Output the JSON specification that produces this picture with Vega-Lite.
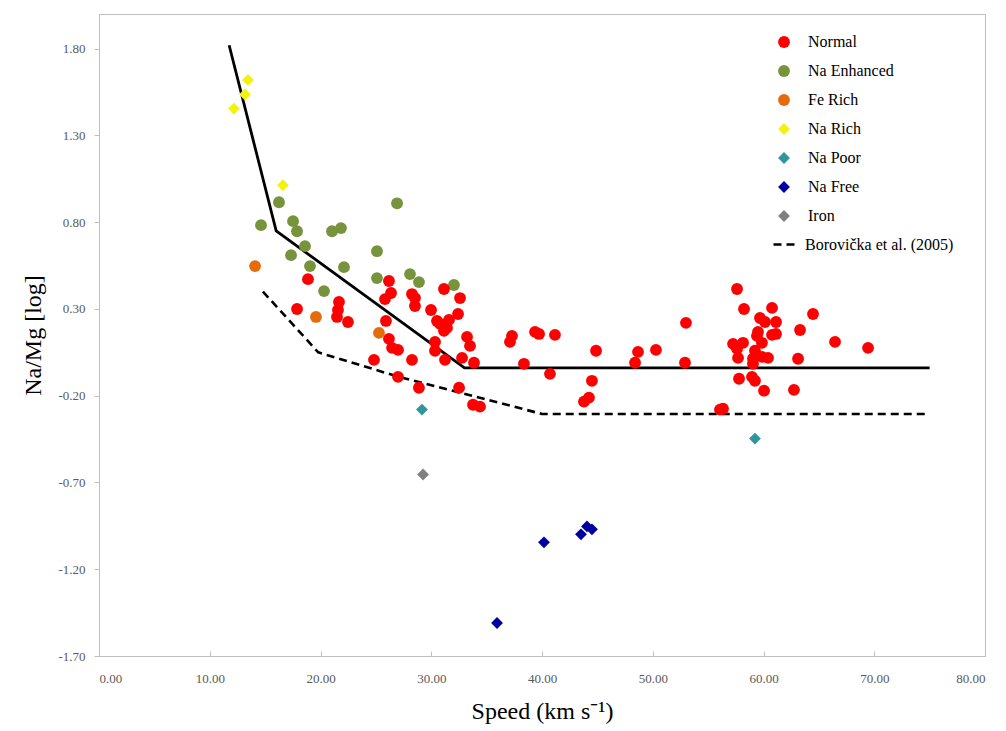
{
  "$schema": "https://vega.github.io/schema/vega-lite/v6.json",
  "width": 886,
  "height": 642,
  "autosize": {"type": "none"},
  "padding": {"left": 99, "top": 14, "right": 21, "bottom": 75},
  "background": "white",
  "config": {
    "view": {"stroke": "#BFBFBF", "strokeWidth": 1},
    "font": "Liberation Serif",
    "axis": {
      "grid": false,
      "labelFont": "Liberation Serif",
      "labelFontSize": 13,
      "labelColor": "#595959",
      "domainColor": "#BFBFBF",
      "tickColor": "#BFBFBF",
      "titleFont": "Liberation Serif",
      "titleFontSize": 24,
      "titleFontWeight": "normal",
      "titleColor": "#000000"
    },
    "legend": {
      "labelFont": "Liberation Serif",
      "labelFontSize": 15,
      "labelColor": "#000000",
      "padding": 0
    }
  },
  "datasets": {
    "pts": [
      {"x": 13.45, "y": 1.62, "g": "Na Rich"},
      {"x": 13.18, "y": 1.536, "g": "Na Rich"},
      {"x": 12.19, "y": 1.455, "g": "Na Rich"},
      {"x": 16.61, "y": 1.013, "g": "Na Rich"},
      {"x": 16.25, "y": 0.915, "g": "Na Enhanced"},
      {"x": 26.91, "y": 0.909, "g": "Na Enhanced"},
      {"x": 14.63, "y": 0.783, "g": "Na Enhanced"},
      {"x": 17.52, "y": 0.806, "g": "Na Enhanced"},
      {"x": 17.88, "y": 0.748, "g": "Na Enhanced"},
      {"x": 21.04, "y": 0.748, "g": "Na Enhanced"},
      {"x": 21.85, "y": 0.766, "g": "Na Enhanced"},
      {"x": 18.6, "y": 0.662, "g": "Na Enhanced"},
      {"x": 17.34, "y": 0.61, "g": "Na Enhanced"},
      {"x": 25.1, "y": 0.633, "g": "Na Enhanced"},
      {"x": 19.05, "y": 0.547, "g": "Na Enhanced"},
      {"x": 22.12, "y": 0.541, "g": "Na Enhanced"},
      {"x": 25.1, "y": 0.478, "g": "Na Enhanced"},
      {"x": 28.08, "y": 0.501, "g": "Na Enhanced"},
      {"x": 28.89, "y": 0.455, "g": "Na Enhanced"},
      {"x": 20.32, "y": 0.403, "g": "Na Enhanced"},
      {"x": 32.05, "y": 0.438, "g": "Na Enhanced"},
      {"x": 14.09, "y": 0.547, "g": "Fe Rich"},
      {"x": 19.59, "y": 0.254, "g": "Fe Rich"},
      {"x": 25.28, "y": 0.162, "g": "Fe Rich"},
      {"x": 29.16, "y": -0.28, "g": "Na Poor"},
      {"x": 59.23, "y": -0.447, "g": "Na Poor"},
      {"x": 40.18, "y": -1.045, "g": "Na Free"},
      {"x": 35.94, "y": -1.51, "g": "Na Free"},
      {"x": 43.52, "y": -0.999, "g": "Na Free"},
      {"x": 44.06, "y": -0.953, "g": "Na Free"},
      {"x": 44.51, "y": -0.97, "g": "Na Free"},
      {"x": 29.26, "y": -0.654, "g": "Iron"},
      {"x": 18.87, "y": 0.472, "g": "Normal"},
      {"x": 26.18, "y": 0.461, "g": "Normal"},
      {"x": 26.37, "y": 0.392, "g": "Normal"},
      {"x": 25.82, "y": 0.357, "g": "Normal"},
      {"x": 28.26, "y": 0.386, "g": "Normal"},
      {"x": 28.53, "y": 0.363, "g": "Normal"},
      {"x": 28.53, "y": 0.317, "g": "Normal"},
      {"x": 29.98, "y": 0.294, "g": "Normal"},
      {"x": 21.67, "y": 0.34, "g": "Normal"},
      {"x": 21.58, "y": 0.294, "g": "Normal"},
      {"x": 21.49, "y": 0.254, "g": "Normal"},
      {"x": 22.48, "y": 0.225, "g": "Normal"},
      {"x": 17.88, "y": 0.3, "g": "Normal"},
      {"x": 25.91, "y": 0.231, "g": "Normal"},
      {"x": 31.15, "y": 0.415, "g": "Normal"},
      {"x": 32.6, "y": 0.363, "g": "Normal"},
      {"x": 32.42, "y": 0.271, "g": "Normal"},
      {"x": 30.52, "y": 0.231, "g": "Normal"},
      {"x": 31.6, "y": 0.237, "g": "Normal"},
      {"x": 30.79, "y": 0.214, "g": "Normal"},
      {"x": 31.42, "y": 0.191, "g": "Normal"},
      {"x": 31.15, "y": 0.174, "g": "Normal"},
      {"x": 26.18, "y": 0.128, "g": "Normal"},
      {"x": 26.46, "y": 0.076, "g": "Normal"},
      {"x": 27.0, "y": 0.064, "g": "Normal"},
      {"x": 30.34, "y": 0.11, "g": "Normal"},
      {"x": 30.34, "y": 0.059, "g": "Normal"},
      {"x": 33.23, "y": 0.139, "g": "Normal"},
      {"x": 33.5, "y": 0.087, "g": "Normal"},
      {"x": 32.78, "y": 0.018, "g": "Normal"},
      {"x": 33.86, "y": -0.01, "g": "Normal"},
      {"x": 31.24, "y": 0.007, "g": "Normal"},
      {"x": 28.26, "y": 0.007, "g": "Normal"},
      {"x": 24.83, "y": 0.007, "g": "Normal"},
      {"x": 27.0, "y": -0.091, "g": "Normal"},
      {"x": 28.89, "y": -0.154, "g": "Normal"},
      {"x": 32.51, "y": -0.154, "g": "Normal"},
      {"x": 33.77, "y": -0.252, "g": "Normal"},
      {"x": 34.4, "y": -0.263, "g": "Normal"},
      {"x": 37.11, "y": 0.11, "g": "Normal"},
      {"x": 37.29, "y": 0.145, "g": "Normal"},
      {"x": 39.37, "y": 0.168, "g": "Normal"},
      {"x": 39.73, "y": 0.156, "g": "Normal"},
      {"x": 41.17, "y": 0.151, "g": "Normal"},
      {"x": 38.37, "y": -0.016, "g": "Normal"},
      {"x": 40.72, "y": -0.074, "g": "Normal"},
      {"x": 44.88, "y": 0.059, "g": "Normal"},
      {"x": 44.51, "y": -0.114, "g": "Normal"},
      {"x": 44.24, "y": -0.211, "g": "Normal"},
      {"x": 43.79, "y": -0.234, "g": "Normal"},
      {"x": 48.67, "y": 0.053, "g": "Normal"},
      {"x": 48.4, "y": -0.01, "g": "Normal"},
      {"x": 50.29, "y": 0.064, "g": "Normal"},
      {"x": 53.0, "y": 0.22, "g": "Normal"},
      {"x": 52.91, "y": -0.01, "g": "Normal"},
      {"x": 56.34, "y": -0.275, "g": "Normal"},
      {"x": 56.07, "y": -0.28, "g": "Normal"},
      {"x": 57.61, "y": 0.415, "g": "Normal"},
      {"x": 58.24, "y": 0.3, "g": "Normal"},
      {"x": 60.77, "y": 0.306, "g": "Normal"},
      {"x": 59.68, "y": 0.248, "g": "Normal"},
      {"x": 60.14, "y": 0.225, "g": "Normal"},
      {"x": 61.13, "y": 0.225, "g": "Normal"},
      {"x": 64.47, "y": 0.271, "g": "Normal"},
      {"x": 63.3, "y": 0.179, "g": "Normal"},
      {"x": 59.5, "y": 0.168, "g": "Normal"},
      {"x": 59.41, "y": 0.145, "g": "Normal"},
      {"x": 60.77, "y": 0.151, "g": "Normal"},
      {"x": 61.13, "y": 0.156, "g": "Normal"},
      {"x": 57.25, "y": 0.099, "g": "Normal"},
      {"x": 58.15, "y": 0.105, "g": "Normal"},
      {"x": 59.86, "y": 0.105, "g": "Normal"},
      {"x": 59.23, "y": 0.059, "g": "Normal"},
      {"x": 57.61, "y": 0.07, "g": "Normal"},
      {"x": 57.7, "y": 0.018, "g": "Normal"},
      {"x": 59.05, "y": 0.013, "g": "Normal"},
      {"x": 59.86, "y": 0.024, "g": "Normal"},
      {"x": 60.41, "y": 0.018, "g": "Normal"},
      {"x": 63.12, "y": 0.013, "g": "Normal"},
      {"x": 66.46, "y": 0.11, "g": "Normal"},
      {"x": 69.44, "y": 0.076, "g": "Normal"},
      {"x": 57.79, "y": -0.102, "g": "Normal"},
      {"x": 58.96, "y": -0.091, "g": "Normal"},
      {"x": 59.23, "y": -0.114, "g": "Normal"},
      {"x": 60.05, "y": -0.171, "g": "Normal"},
      {"x": 62.75, "y": -0.166, "g": "Normal"},
      {"x": 59.05, "y": -0.016, "g": "Normal"}
    ],
    "solid": [
      {"x": 11.75, "y": 1.82},
      {"x": 16.0, "y": 0.75},
      {"x": 33.0, "y": -0.04},
      {"x": 75.0, "y": -0.04}
    ],
    "dash": [
      {"x": 14.8, "y": 0.4, "s": "Borovička et al. (2005)"},
      {"x": 19.8, "y": 0.05, "s": "Borovička et al. (2005)"},
      {"x": 27.0, "y": -0.09, "s": "Borovička et al. (2005)"},
      {"x": 40.0, "y": -0.305, "s": "Borovička et al. (2005)"},
      {"x": 75.0, "y": -0.305, "s": "Borovička et al. (2005)"}
    ]
  },
  "encoding": {
    "x": {
      "field": "x",
      "type": "quantitative",
      "scale": {"domain": [0, 80], "nice": false, "zero": false},
      "axis": {
        "title": "Speed (km s⁻¹)",
        "titleFont": "Liberation Serif",
        "values": [0, 10, 20, 30, 40, 50, 60, 70, 80],
        "format": ".2f",
        "tickSize": -5,
        "labelPadding": 21,
        "titlePadding": 14
      }
    },
    "y": {
      "field": "y",
      "type": "quantitative",
      "scale": {"domain": [-1.7, 2.0], "nice": false, "zero": false},
      "axis": {
        "title": "Na/Mg [log]",
        "titleFont": "Liberation Serif",
        "values": [-1.7, -1.2, -0.7, -0.2, 0.3, 0.8, 1.3, 1.8],
        "labelExpr": "(datum.value < 0 ? '-' : '') + format(abs(datum.value), '.2f')",
        "tickSize": 5,
        "labelPadding": 9,
        "titlePadding": 12
      }
    }
  },
  "layer": [
    {
      "data": {"name": "solid"},
      "mark": {"type": "line", "color": "#000000", "strokeWidth": 2.8},
      "encoding": {}
    },
    {
      "data": {"name": "dash"},
      "mark": {"type": "line", "color": "#000000", "strokeWidth": 2.6},
      "encoding": {
        "strokeDash": {
          "field": "s",
          "type": "nominal",
          "scale": {"domain": ["Borovička et al. (2005)"], "range": [[8, 5]]},
          "legend": {
            "title": null,
            "orient": "none",
            "legendX": 673,
            "legendY": 216,
            "symbolSize": 676,
            "symbolStrokeWidth": 2.5,
            "labelOffset": 4,
            "labelFont": "Liberation Serif",
            "labelFontSize": 16,
            "labelColor": "#000000"
          }
        }
      }
    },
    {
      "data": {"name": "pts"},
      "mark": {"type": "point", "filled": true, "opacity": 1},
      "encoding": {
        "color": {
          "field": "g",
          "type": "nominal",
          "scale": {
            "domain": ["Normal", "Na Enhanced", "Fe Rich", "Na Rich", "Na Poor", "Na Free", "Iron"],
            "range": ["#FF0000", "#77933C", "#E46C0A", "#F2F20F", "#31959C", "#0000A0", "#808080"]
          },
          "legend": {
            "title": null,
            "orient": "none",
            "legendX": 677,
            "legendY": 20,
            "symbolSize": 70,
            "rowPadding": 13,
            "labelOffset": 16,
            "labelFont": "Liberation Serif",
            "labelFontSize": 16,
            "labelColor": "#000000"
          }
        },
        "shape": {
          "field": "g",
          "type": "nominal",
          "scale": {
            "domain": ["Normal", "Na Enhanced", "Fe Rich", "Na Rich", "Na Poor", "Na Free", "Iron"],
            "range": ["circle", "circle", "circle", "diamond", "diamond", "diamond", "diamond"]
          }
        },
        "size": {
          "field": "g",
          "type": "nominal",
          "scale": {
            "domain": ["Normal", "Na Enhanced", "Fe Rich", "Na Rich", "Na Poor", "Na Free", "Iron"],
            "range": [140, 140, 110, 150, 70, 80, 80]
          },
          "legend": null
        }
      }
    }
  ]
}
